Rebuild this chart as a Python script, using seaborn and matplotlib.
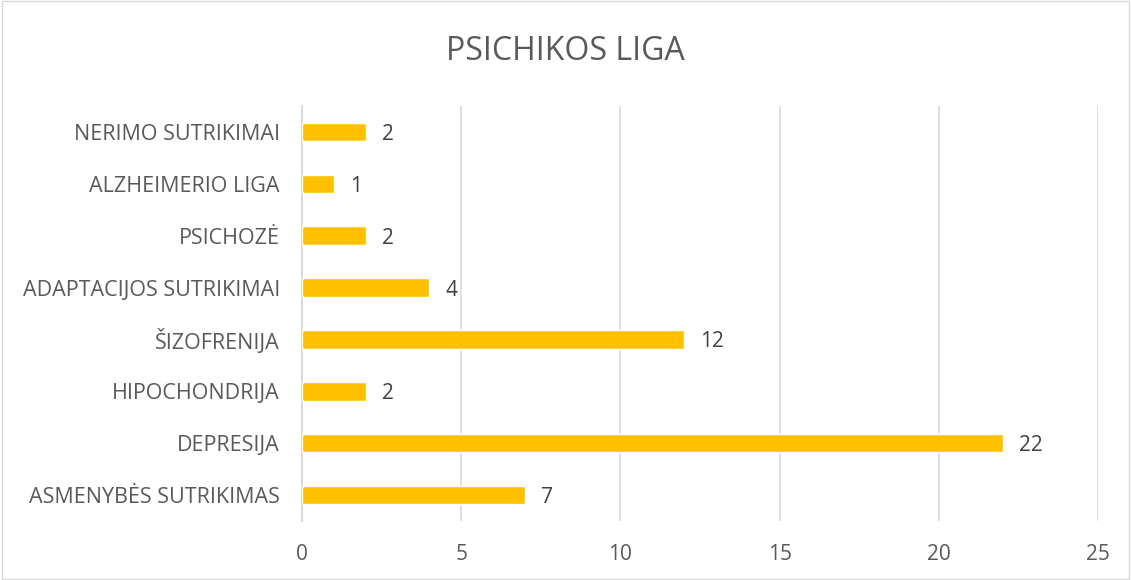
import matplotlib
matplotlib.use("Agg")
import matplotlib.pyplot as plt
import seaborn as sns
import pandas as pd

# Duomenys
ligos = [
    "NERIMO SUTRIKIMAI",
    "ALZHEIMERIO LIGA",
    "PSICHOZĖ",
    "ADAPTACIJOS SUTRIKIMAI",
    "ŠIZOFRENIJA",
    "HIPOCHONDRIJA",
    "DEPRESIJA",
    "ASMENYBĖS SUTRIKIMAS",
]
kiekis = [2, 1, 2, 4, 12, 2, 22, 7]
x_ticks = [0, 5, 10, 15, 20, 25]

df = pd.DataFrame({"Liga": ligos, "Kiekis": kiekis})

sns.set_theme(style="white")
plt.rcParams["font.family"] = ["Open Sans", "DejaVu Sans"]

text_col = "#595959"
grid_col = "#d9d9d9"

fig = plt.figure(figsize=(11.31, 5.8), dpi=100)
ax = fig.add_axes([0.267, 0.102, 0.704, 0.715])

sns.barplot(data=df, x="Kiekis", y="Liga", color="#FFC000", width=0.36,
            saturation=1, ax=ax, zorder=3)

for p, v in zip(ax.patches, kiekis):
    ax.text(p.get_width() + 0.5, p.get_y() + p.get_height() / 2, str(v),
            va="center_baseline", ha="left", fontsize=15, color="#404040")

ax.set_xlim(0, 25)
ax.set_xticks(x_ticks)
ax.set_ylim(7.5, -0.5)
ax.xaxis.grid(True, color=grid_col, linewidth=1.2, zorder=0)
ax.yaxis.grid(False)
for s in ["top", "right", "bottom"]:
    ax.spines[s].set_visible(False)
ax.spines["left"].set_color(grid_col)
ax.spines["left"].set_linewidth(1.5)
ax.tick_params(axis="both", length=0, labelsize=15, labelcolor=text_col)
ax.tick_params(axis="y", labelsize=15.5, pad=16)
ax.tick_params(axis="x", pad=17)
ax.set_xlabel("")
ax.set_ylabel("")

fig.text(0.5, 0.912, "PSICHIKOS LIGA", ha="center", va="center",
         fontsize=23, color=text_col)

# rėmelis
fig.patches.append(plt.Rectangle((0.002, 0.002), 0.996, 0.996, fill=False,
                                 edgecolor=grid_col, linewidth=1,
                                 transform=fig.transFigure, figure=fig))

fig.savefig("out.png", dpi=100)
